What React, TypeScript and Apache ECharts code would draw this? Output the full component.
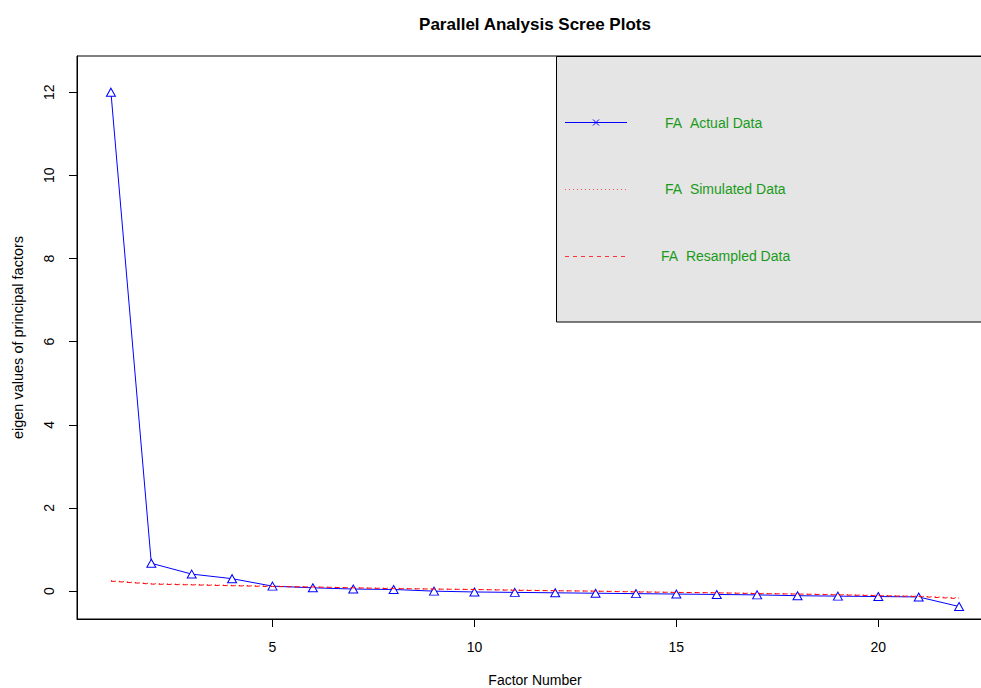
import React, { useEffect, useRef } from "react";
import * as echarts from "echarts";

const factors = [1, 2, 3, 4, 5, 6, 7, 8, 9, 10, 11, 12, 13, 14, 15, 16, 17, 18, 19, 20, 21, 22];
const actualData = [12.0, 0.67, 0.41, 0.30, 0.12, 0.08, 0.05, 0.04, 0.0, -0.02, -0.03, -0.04, -0.05, -0.06, -0.07, -0.08, -0.09, -0.11, -0.12, -0.13, -0.14, -0.37];
const simulatedData = [0.25, 0.18, 0.16, 0.14, 0.12, 0.10, 0.08, 0.07, 0.05, 0.04, 0.03, 0.01, 0.0, -0.01, -0.03, -0.04, -0.05, -0.07, -0.08, -0.10, -0.12, -0.16];
const resampledData = [0.24, 0.17, 0.15, 0.13, 0.11, 0.10, 0.08, 0.06, 0.05, 0.04, 0.02, 0.01, 0.0, -0.02, -0.03, -0.04, -0.06, -0.07, -0.09, -0.11, -0.13, -0.18];
const xTicks = [5, 10, 15, 20];
const yTicks = [0, 2, 4, 6, 8, 10, 12];
const legendLabels = ["FA\u00a0\u00a0Actual Data", "FA\u00a0\u00a0Simulated Data", "FA\u00a0\u00a0Resampled Data"];

const FONT = "Liberation Sans, Arial, Helvetica, sans-serif";
const GREEN = "#1a9a1a";

export default function App() {
  const ref = useRef<HTMLDivElement>(null);
  useEffect(() => {
    document.body.style.margin = "0";
    if (!ref.current) return;
    const chart = echarts.init(ref.current, null, { renderer: "svg" });
    const pairs = (ys: number[]) => factors.map((x, i) => [x, ys[i]]);
    const option: any = {
      animation: false,
      backgroundColor: "#ffffff",
      title: {
        text: "Parallel Analysis Scree Plots",
        left: 530,
        top: 11,
        textAlign: "center",
        textStyle: { fontFamily: FONT, fontWeight: "bold", fontSize: 17, color: "#000" },
      },
      grid: {
        left: 77,
        top: 56,
        width: 916,
        height: 563,
        show: true,
        outerBoundsMode: "none",
        containLabel: false,
        borderColor: "#000",
        borderWidth: 1,
        backgroundColor: "transparent",
      },
      xAxis: {
        type: "value",
        min: 0.16,
        max: 22.84,
        name: "Factor Number",
        nameLocation: "middle",
        nameGap: 54,
        nameTextStyle: { fontFamily: FONT, fontSize: 14, color: "#000" },
        axisLine: { show: true, onZero: false, lineStyle: { color: "#000", width: 1 } },
        axisTick: { show: true, inside: false, length: 8, customValues: xTicks, lineStyle: { color: "#000" } },
        axisLabel: { customValues: xTicks, margin: 21, fontFamily: FONT, fontSize: 14, color: "#000" },
        splitLine: { show: false },
      },
      yAxis: {
        type: "value",
        min: -0.67,
        max: 12.87,
        name: "eigen values of principal factors",
        nameLocation: "middle",
        nameRotate: 90,
        nameGap: 52,
        nameTextStyle: { fontFamily: FONT, fontSize: 14.5, color: "#000" },
        axisLine: { show: true, onZero: false, lineStyle: { color: "#000", width: 1 } },
        axisTick: { show: true, inside: false, length: 8, customValues: yTicks, lineStyle: { color: "#000" } },
        axisLabel: { customValues: yTicks, rotate: 90, margin: 21, fontFamily: FONT, fontSize: 14, color: "#000" },
        splitLine: { show: false },
      },
      series: [
        {
          name: "FA  Actual Data",
          type: "line",
          data: pairs(actualData),
          symbol: "triangle",
          symbolSize: [9, 8],
          showAllSymbol: true,
          lineStyle: { color: "#0000ff", width: 1 },
          itemStyle: { color: "#ffffff", borderColor: "#0000ff", borderWidth: 1 },
          z: 2,
        },
        {
          name: "FA  Simulated Data",
          type: "line",
          data: pairs(simulatedData),
          symbol: "none",
          lineStyle: { color: "#ff0000", width: 1, type: [1, 3] },
          z: 3,
        },
        {
          name: "FA  Resampled Data",
          type: "line",
          data: pairs(resampledData),
          symbol: "none",
          lineStyle: { color: "#ff0000", width: 1, type: [4, 4] },
          z: 3,
        },
      ],
      graphic: [
        {
          type: "rect",
          shape: { x: 556.5, y: 56.5, width: 440, height: 265.5 },
          style: { fill: "#e5e5e5", stroke: "#000", lineWidth: 1 },
          z: 10,
        },
        {
          type: "line",
          shape: { x1: 565, y1: 122.5, x2: 627, y2: 122.5 },
          style: { stroke: "#0000ff", lineWidth: 1 },
          z: 11,
        },
        {
          type: "line",
          shape: { x1: 593, y1: 119.5, x2: 599, y2: 125.5 },
          style: { stroke: "#0000ff", lineWidth: 1 },
          z: 11,
        },
        {
          type: "line",
          shape: { x1: 593, y1: 125.5, x2: 599, y2: 119.5 },
          style: { stroke: "#0000ff", lineWidth: 1 },
          z: 11,
        },
        {
          type: "line",
          shape: { x1: 565, y1: 189.5, x2: 627, y2: 189.5 },
          style: { stroke: "#ff5555", lineWidth: 1, lineDash: [1, 3] },
          z: 11,
        },
        {
          type: "line",
          shape: { x1: 565, y1: 256.5, x2: 627, y2: 256.5 },
          style: { stroke: "#ff3333", lineWidth: 1, lineDash: [4, 4] },
          z: 11,
        },
        {
          type: "text",
          x: 665,
          y: 123,
          style: { text: legendLabels[0], fill: GREEN, font: `14px ${FONT}`, textAlign: "left", textVerticalAlign: "middle" },
          z: 11,
        },
        {
          type: "text",
          x: 665,
          y: 189,
          style: { text: legendLabels[1], fill: GREEN, font: `14px ${FONT}`, textAlign: "left", textVerticalAlign: "middle" },
          z: 11,
        },
        {
          type: "text",
          x: 661,
          y: 256,
          style: { text: legendLabels[2], fill: GREEN, font: `14px ${FONT}`, textAlign: "left", textVerticalAlign: "middle" },
          z: 11,
        },
      ],
    };
    chart.setOption(option);
    return () => chart.dispose();
  }, []);
  return (
    <div style={{ width: 981, height: 688, overflow: "hidden", position: "relative" }}>
      <div ref={ref} style={{ width: 1010, height: 688 }} />
    </div>
  );
}
